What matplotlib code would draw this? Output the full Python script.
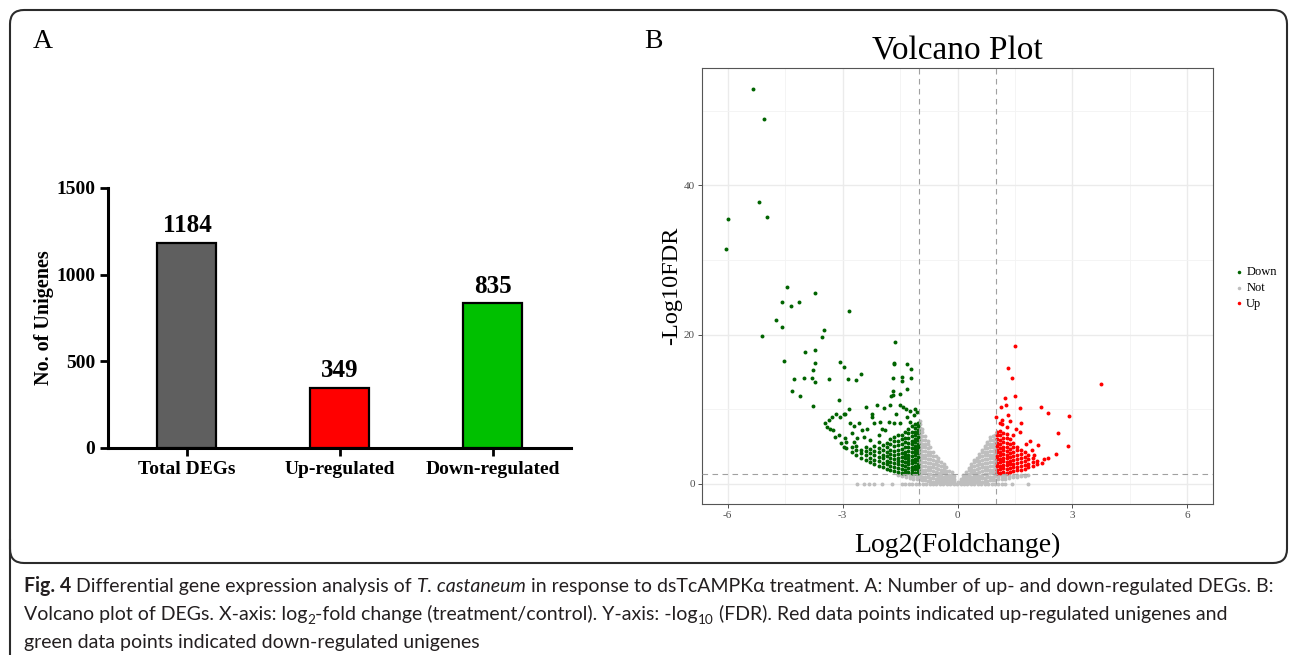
import matplotlib
matplotlib.use('Agg')
import matplotlib.pyplot as plt
from matplotlib.patches import FancyBboxPatch
from matplotlib.lines import Line2D

plt.rcParams['axes.unicode_minus'] = False

W, H = 1292, 655
SERIF = ['Liberation Serif', 'DejaVu Serif']
CAP_FONT = ['Lato', 'Open Sans', 'DejaVu Sans']

# ---- panel A: counts ----
groups = ['Total DEGs', 'Up-regulated', 'Down-regulated']
counts = [1184, 349, 835]
bar_colors = ['#5f5f5f', '#ff0000', '#00c000']

# ---- panel B: volcano points (log2FC, -log10 FDR) ----
down_far = [
    (-5.34, 52.9), (-5.04, 48.9), (-5.17, 37.7), (-5.99, 35.5), (-4.98, 35.8), (-6.05, 31.4),
    (-4.45, 26.3), (-3.73, 25.5), (-4.59, 24.3), (-4.13, 24.4), (-4.35, 23.8), (-2.83, 23.2),
    (-4.75, 22.0), (-4.57, 21.0), (-3.49, 20.6), (-3.54, 19.7), (-5.10, 19.8), (-3.73, 17.9),
    (-3.97, 17.7), (-4.53, 16.4), (-3.71, 16.2), (-3.06, 16.3), (-2.97, 15.7), (-2.53, 14.7),
    (-3.77, 15.3), (-4.26, 14.0), (-4.00, 14.2), (-3.81, 14.2), (-3.35, 14.0), (-2.87, 14.0),
    (-2.64, 13.9), (-3.73, 13.7), (-4.32, 12.5), (-4.10, 11.8), (-3.09, 11.2), (-3.77, 10.4),
    (-1.63, 19.0), (-1.66, 16.2), (-1.65, 16.0), (-1.33, 16.1), (-1.21, 15.4), (-1.68, 14.2),
    (-1.44, 14.3), (-1.21, 14.2), (-1.44, 13.8), (-1.33, 12.7), (-1.68, 12.5), (-1.51, 12.0),
    (-1.69, 11.9), (-1.73, 11.8), (-2.39, 10.3), (-2.11, 10.6), (-2.82, 10.0),
]
down_mid = [
    (-3.45, 8.2), (-3.36, 8.5), (-3.28, 8.9), (-3.16, 9.3), (-2.97, 9.35), (-2.93, 9.3),
    (-3.08, 9.0), (-3.41, 7.65), (-3.32, 7.3), (-3.24, 7.2), (-3.19, 6.3), (-2.93, 6.2),
    (-2.75, 6.85), (-2.80, 8.1), (-2.58, 8.2), (-2.71, 7.7), (-2.23, 9.0), (-1.93, 10.1),
    (-1.76, 10.5), (-1.49, 10.55), (-1.41, 10.3), (-1.23, 9.8), (-1.10, 10.0), (-1.14, 9.2),
    (-2.19, 8.2), (-2.37, 7.4), (-2.02, 8.3), (-1.97, 7.4), (-1.80, 8.3), (-1.67, 8.1),
    (-2.06, 6.5), (-2.23, 9.4), (-2.50, 7.2), (-1.89, 7.2), (-1.49, 8.1), (-1.32, 9.0),
    (-1.23, 8.3), (-2.28, 5.9), (-2.45, 6.3), (-2.71, 5.65), (-2.62, 6.1), (-3.05, 5.5),
    (-2.95, 5.0), (-3.10, 6.6), (-1.05, 9.6), (-1.35, 10.0), (-1.60, 9.4),
]
down_core_x = [-1.02, -1.10, -1.19, -1.28, -1.37, -1.46, -1.55, -1.65, -1.75, -1.85,
               -1.95, -2.06, -2.17, -2.28, -2.40, -2.52, -2.64, -2.76, -2.90]
down_core_y = [
    [1.4, 1.8, 2.3, 2.7, 3.2, 3.6, 4.1, 4.5, 5.0, 5.4, 5.9, 6.3, 6.8, 7.2, 7.7, 8.2],
    [1.5, 2.0, 2.4, 2.9, 3.3, 3.8, 4.2, 4.7, 5.1, 5.6, 6.0, 6.5, 7.0, 7.5, 8.0],
    [1.4, 1.9, 2.3, 2.8, 3.2, 3.7, 4.3, 4.8, 5.3, 5.8, 6.4, 7.0, 7.7],
    [1.6, 2.1, 2.6, 3.0, 3.5, 3.9, 4.4, 5.0, 5.5, 6.1, 6.8, 7.4],
    [1.5, 1.9, 2.4, 2.9, 3.4, 3.8, 4.3, 4.9, 5.6, 6.2, 7.0],
    [1.5, 2.0, 2.5, 3.1, 3.6, 4.1, 4.7, 5.3, 6.0, 6.6],
    [1.6, 2.1, 2.6, 3.0, 3.5, 4.0, 4.6, 5.2, 5.8, 6.5],
    [1.7, 2.2, 2.8, 3.3, 3.9, 4.4, 5.1, 5.7, 6.3],
    [1.9, 2.4, 2.9, 3.5, 4.0, 4.6, 5.3, 6.0],
    [2.0, 2.6, 3.1, 3.7, 4.2, 4.9, 5.5],
    [2.2, 2.8, 3.4, 3.9, 4.5, 5.2],
    [2.4, 3.0, 3.6, 4.2, 4.8, 5.6],
    [2.7, 3.2, 3.8, 4.4, 5.1],
    [2.9, 3.5, 4.1, 4.7],
    [3.2, 3.8, 4.4, 5.0],
    [3.5, 4.1, 4.6],
    [3.9, 4.5, 5.1],
    [4.3, 4.9],
    [4.8, 5.6],
]

up_far = [
    (1.51, 18.4), (1.33, 15.5), (1.41, 14.2), (3.75, 13.4), (1.50, 11.8), (1.23, 11.5),
    (1.27, 10.6), (1.13, 10.3), (1.62, 10.2), (2.18, 10.3), (2.35, 9.5), (2.90, 9.1),
    (1.01, 9.0), (1.16, 8.6), (1.11, 8.2), (1.33, 9.2), (1.37, 8.45), (1.17, 8.0),
    (1.67, 8.1), (1.52, 7.4), (1.64, 6.9), (2.62, 6.8), (2.10, 5.2), (2.89, 5.1),
    (1.88, 5.7), (1.79, 5.4), (2.56, 4.0), (2.37, 3.4), (2.25, 3.3), (2.01, 3.9),
    (1.95, 4.6), (2.20, 2.8), (1.30, 7.6), (1.45, 6.6),
]
up_core_x = [1.02, 1.10, 1.19, 1.28, 1.37, 1.46, 1.55, 1.65, 1.75, 1.85, 1.96, 2.07]
up_core_y = [
    [1.5, 1.9, 2.4, 2.8, 3.3, 3.7, 4.2, 4.6, 5.1, 5.5, 6.0, 6.5, 7.0],
    [1.5, 2.0, 2.4, 2.9, 3.3, 3.8, 4.3, 4.8, 5.3, 5.9, 6.5, 7.1],
    [1.6, 2.1, 2.5, 3.0, 3.5, 4.0, 4.5, 5.0, 5.6, 6.2, 6.8],
    [1.5, 2.0, 2.5, 2.9, 3.4, 3.9, 4.4, 5.0, 5.5, 6.1, 6.7],
    [1.6, 2.1, 2.6, 3.1, 3.6, 4.1, 4.7, 5.3, 6.0],
    [1.7, 2.2, 2.7, 3.2, 3.7, 4.3, 4.9, 5.5],
    [1.8, 2.3, 2.8, 3.3, 3.9, 4.5, 5.0],
    [1.9, 2.4, 2.9, 3.5, 4.0, 4.6],
    [2.0, 2.5, 3.1, 3.6, 4.3],
    [2.2, 2.7, 3.3, 3.9],
    [2.4, 2.9, 3.5],
    [2.6, 3.1],
]

not_x = [-1.55, -1.45, -1.35, -1.25, -1.15, -1.05, -0.98, -0.92, -0.85, -0.78, -0.71,
         -0.64, -0.57, -0.50, -0.43, -0.36, -0.29, -0.22, -0.15, -0.08, 0.00, 0.08,
         0.15, 0.22, 0.29, 0.36, 0.43, 0.50, 0.57, 0.64, 0.71, 0.78, 0.85, 0.92, 0.98,
         1.06, 1.15, 1.25, 1.35, 1.45, 1.55, 1.65, 1.75, 1.85]
not_y = [
    [1.25],
    [1.0, 1.25],
    [0.9, 1.2],
    [0.8, 1.05, 1.28],
    [0.7, 0.95, 1.2],
    [0.6, 0.9, 1.2],
    [0.6, 1.0, 1.5, 2.0, 2.5, 3.0, 3.5, 4.0, 4.5, 5.0, 5.5, 6.0, 6.5, 7.0, 7.5, 8.0, 8.4],
    [0.5, 0.9, 1.4, 1.9, 2.4, 2.9, 3.4, 3.9, 4.4, 4.9, 5.4, 5.9, 6.4, 6.9, 7.4],
    [0.45, 0.9, 1.4, 1.9, 2.4, 2.9, 3.4, 3.9, 4.4, 4.9, 5.4, 5.9, 6.4],
    [0.4, 0.85, 1.3, 1.8, 2.3, 2.8, 3.3, 3.8, 4.3, 4.8, 5.3, 5.7],
    [0.35, 0.8, 1.3, 1.8, 2.3, 2.8, 3.3, 3.8, 4.3, 4.9],
    [0.3, 0.75, 1.2, 1.7, 2.2, 2.7, 3.2, 3.7, 4.2],
    [0.3, 0.7, 1.2, 1.6, 2.1, 2.6, 3.1, 3.7],
    [0.25, 0.65, 1.1, 1.5, 2.0, 2.5, 3.0, 3.4],
    [0.2, 0.6, 1.0, 1.5, 1.9, 2.4, 2.9],
    [0.2, 0.55, 0.95, 1.4, 1.8, 2.3, 2.7],
    [0.15, 0.5, 0.9, 1.3, 1.7, 2.2],
    [0.1, 0.45, 0.85, 1.25, 1.7],
    [0.1, 0.4, 0.8, 1.2, 1.6],
    [0.05, 0.35, 0.7, 1.0],
    [0.05, 0.3],
    [0.05, 0.35, 0.65],
    [0.1, 0.4, 0.8, 1.2],
    [0.1, 0.45, 0.85, 1.3, 1.6],
    [0.15, 0.5, 0.9, 1.3, 1.8, 2.1],
    [0.2, 0.55, 0.95, 1.4, 1.8, 2.3, 2.7],
    [0.2, 0.6, 1.0, 1.5, 1.9, 2.4, 2.9, 3.2],
    [0.25, 0.65, 1.1, 1.5, 2.0, 2.5, 3.0, 3.5],
    [0.3, 0.7, 1.1, 1.6, 2.1, 2.6, 3.1, 3.6, 4.0],
    [0.3, 0.75, 1.2, 1.7, 2.2, 2.7, 3.2, 3.7, 4.2, 4.6],
    [0.35, 0.8, 1.3, 1.8, 2.3, 2.8, 3.3, 3.8, 4.3, 4.8, 5.1],
    [0.4, 0.85, 1.3, 1.8, 2.3, 2.8, 3.3, 3.8, 4.3, 4.8, 5.3, 5.6],
    [0.45, 0.9, 1.4, 1.9, 2.4, 2.9, 3.4, 3.9, 4.4, 4.9, 5.4, 5.9, 6.3],
    [0.5, 0.9, 1.4, 1.9, 2.4, 2.9, 3.4, 3.9, 4.4, 4.9, 5.4, 5.9, 6.4],
    [0.55, 1.0, 1.5, 2.0, 2.5, 3.0, 3.5, 4.0, 4.5, 5.0, 5.5, 6.0, 6.5],
    [0.6, 0.95, 1.25],
    [0.65, 1.0, 1.25],
    [0.7, 1.0, 1.28],
    [0.8, 1.1, 1.28],
    [0.85, 1.1],
    [0.9, 1.2],
    [1.0, 1.2],
    [1.1, 1.25],
    [1.2],
]
# genes with FDR = 1 sit on the zero line
not_zero_x = [-2.63, -2.45, -2.30, -2.19, -1.98, -1.71, -1.45, -1.36, -1.27, -1.18, -1.09,
              -1.00, -0.91, -0.82, -0.73, -0.64, -0.55, -0.46, -0.37, -0.28, -0.19, -0.10,
              -0.01, 0.08, 0.17, 0.26, 0.35, 0.44, 0.53, 0.62, 0.71, 0.80, 0.89, 0.98,
              1.07, 1.16, 1.23, 1.41, 1.84]

fc_cut = 1.0
fdr_line = 1.3  # -log10(0.05)


def flatten(cols, rows):
    xs = [c for c, r in zip(cols, rows) for _ in r]
    ys = [v for r in rows for v in r]
    return xs, ys


fig = plt.figure(figsize=(W / 100, H / 100), dpi=100)

# frame around the figure + caption rule
bg = fig.add_axes([0, 0, 1, 1], zorder=-5)
bg.set_xlim(0, W)
bg.set_ylim(H, 0)
bg.axis('off')
bg.add_patch(FancyBboxPatch((10, 10), 1277, 553, boxstyle='round,pad=0,rounding_size=14',
                            fc='none', ec='#2b2b2b', lw=1.5))
bg.add_line(Line2D([10, 10], [540, H], color='#2b2b2b', lw=1.5))

# ---------------- panel A ----------------
axA = fig.add_axes([108 / W, 1 - 448 / H, (571 - 108) / W, (448 - 188) / H])
pos = list(range(len(groups)))
axA.bar(pos, counts, width=0.386, color=bar_colors, edgecolor='black', linewidth=1.6, zorder=3)
for p, c in zip(pos, counts):
    axA.annotate(str(c), (p, c), xytext=(0, 4), textcoords='offset points', ha='center',
                 va='bottom', fontsize=18, fontweight='bold', family=SERIF)
axA.set_xlim(-0.516, 2.51)
axA.set_ylim(0, 1500)
axA.set_yticks([0, 500, 1000, 1500])
axA.set_xticks(pos)
axA.set_xticklabels(groups)
for s in ['top', 'right']:
    axA.spines[s].set_visible(False)
for s in ['left', 'bottom']:
    axA.spines[s].set_linewidth(2.2)
axA.tick_params(width=2, length=6, pad=3)
for lab in axA.get_xticklabels() + axA.get_yticklabels():
    lab.set_fontsize(14)
    lab.set_fontweight('bold')
    lab.set_family(SERIF)
axA.set_ylabel('No. of Unigenes', fontsize=14.5, fontweight='bold', family=SERIF, labelpad=2)
fig.text(33 / W, 1 - 42 / H, 'A', fontsize=20, family=SERIF, va='center')

# ---------------- panel B ----------------
axB = fig.add_axes([702 / W, 1 - 504 / H, (1213 - 702) / W, (504 - 68) / H])
nx, ny = flatten(not_x, not_y)
nx += not_zero_x
ny += [0.0] * len(not_zero_x)
dx, dy = flatten(down_core_x, down_core_y)
dx += [p[0] for p in down_far + down_mid]
dy += [p[1] for p in down_far + down_mid]
ux, uy = flatten(up_core_x, up_core_y)
ux += [p[0] for p in up_far]
uy += [p[1] for p in up_far]

h_down = axB.scatter(dx, dy, s=8, color='#006400', lw=0, zorder=3, label='Down')
h_not = axB.scatter(nx, ny, s=8, color='#bebebe', lw=0, zorder=2, label='Not')
h_up = axB.scatter(ux, uy, s=8, color='#ff0000', lw=0, zorder=3, label='Up')

for v in (-fc_cut, fc_cut):
    axB.axvline(v, color='#a0a0a0', lw=0.8, ls=(0, (5, 4)), zorder=4)
axB.axhline(fdr_line, color='#a0a0a0', lw=0.8, ls=(0, (5, 4)), zorder=4)

axB.set_xlim(-6.67, 6.67)
axB.set_ylim(-2.7, 55.7)
axB.set_xticks([-6, -3, 0, 3, 6])
axB.set_yticks([0, 20, 40])
axB.set_xticks([-4.5, -1.5, 1.5, 4.5], minor=True)
axB.set_yticks([10, 30, 50], minor=True)
axB.grid(which='major', color='#ebebeb', lw=1.0, zorder=0)
axB.grid(which='minor', color='#f3f3f3', lw=0.6, zorder=0)
axB.set_axisbelow(True)
axB.tick_params(which='major', length=3, width=0.6, color='#333333', labelsize=8,
                labelcolor='#4d4d4d', pad=2)
axB.tick_params(which='minor', length=0)
for lab in axB.get_xticklabels() + axB.get_yticklabels():
    lab.set_family(SERIF)
for s in axB.spines.values():
    s.set_color('#555555')
    s.set_linewidth(0.8)
axB.set_title('Volcano Plot', fontsize=24, family=SERIF, pad=6)
axB.set_xlabel('Log2(Foldchange)', fontsize=20, family=SERIF, labelpad=9)
axB.set_ylabel('-Log10FDR', fontsize=17.5, family=SERIF, labelpad=1)
leg = axB.legend(handles=[h_down, h_not, h_up], loc='center left',
                 bbox_to_anchor=(1230 / W, 1 - 288 / H), bbox_transform=fig.transFigure,
                 frameon=False, handlelength=0.6, handletextpad=0.3, labelspacing=0.3,
                 markerscale=0.9, prop={'family': SERIF, 'size': 9}, borderaxespad=0)
fig.text(644 / W, 1 - 42 / H, 'B', fontsize=20, family=SERIF, va='center')

# ---------------- caption ----------------
renderer = fig.canvas.get_renderer()


def piece_width(txt, size, weight='normal', style='normal'):
    t1 = fig.text(0, 0, txt + 'x', fontsize=size, fontweight=weight, fontstyle=style, family=CAP_FONT)
    t2 = fig.text(0, 0, 'x', fontsize=size, fontweight=weight, fontstyle=style, family=CAP_FONT)
    w = t1.get_window_extent(renderer).width - t2.get_window_extent(renderer).width
    t1.remove()
    t2.remove()
    return w


line1 = [('Fig. 4', 'bold', 'normal', 0), (' Differential gene expression analysis of ', 'normal', 'normal', 0),
         ('T. castaneum', 'normal', 'italic', 0),
         (' in response to dsTcAMPKα treatment. A: Number of up- and down-regulated DEGs. B:', 'normal', 'normal', 0)]
line2 = [('Volcano plot of DEGs. X-axis: log', 'normal', 'normal', 0), ('2', 'normal', 'normal', 1),
         ('-fold change (treatment/control). Y-axis: -log', 'normal', 'normal', 0), ('10', 'normal', 'normal', 1),
         (' (FDR). Red data points indicated up-regulated unigenes and', 'normal', 'normal', 0)]
line3 = [('green data points indicated down-regulated unigenes', 'normal', 'normal', 0)]

base = 14
full = sum(piece_width(t, base * (0.7 if sub else 1), w, st) for t, w, st, sub in line1)
cap_size = base * 1256 / full

for pieces, yb in [(line1, 592), (line2, 620), (line3, 648)]:
    x = 24
    for txt, wgt, sty, sub in pieces:
        size = cap_size * (0.7 if sub else 1)
        yy = yb + (4 if sub else 0)
        fig.text(x / W, 1 - yy / H, txt, fontsize=size, fontweight=wgt, fontstyle=sty,
                 family=CAP_FONT, va='baseline', ha='left', color='#231f20')
        x += piece_width(txt, size, wgt, sty)

fig.savefig('out.png', dpi=100)
